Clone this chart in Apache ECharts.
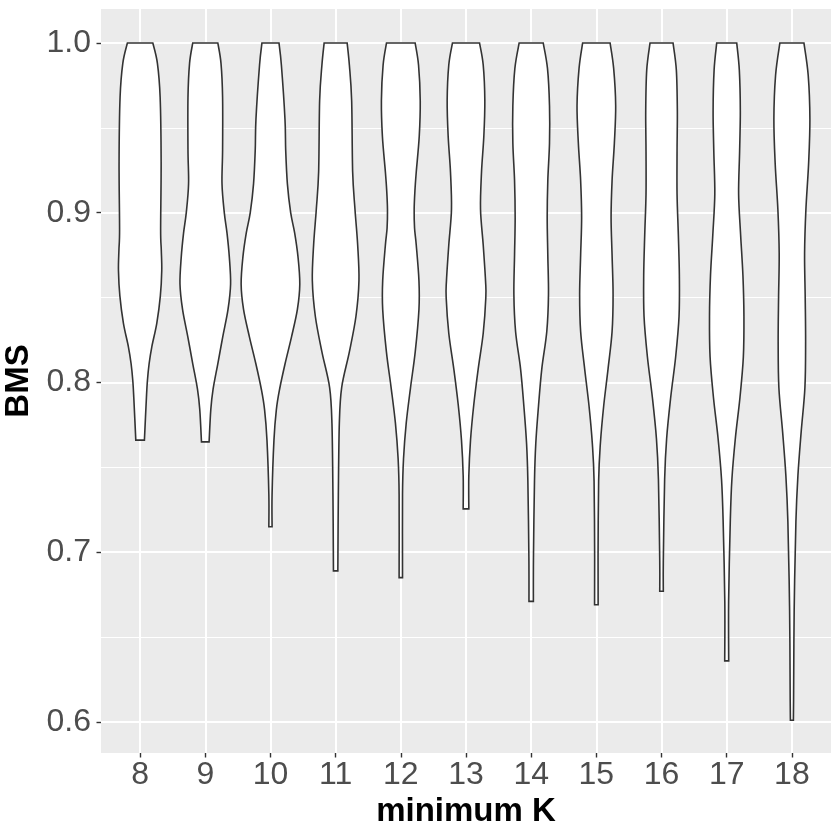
<!DOCTYPE html>
<html>
<head>
<meta charset="utf-8">
<script src="https://cdn.jsdelivr.net/npm/echarts@6/dist/echarts.min.js"></script>
<style>
  html, body { margin: 0; padding: 0; background: #fff; }
  #chart { width: 840px; height: 840px; }
</style>
</head>
<body>
<div id="chart"></div>
<script>
// minimum K groups (x axis)
const kValues = [8, 9, 10, 11, 12, 13, 14, 15, 16, 17, 18]
const yTicks = [0.6, 0.7, 0.8, 0.9, 1.0]
const yMinorTicks = [0.65, 0.75, 0.85, 0.95]

// violin outlines: [BMS, relative width], top to bottom
// width 1 = widest violin (K = 10)
const violin8 = [[1.0, 0.433], [0.988, 0.590], [0.968, 0.683], [0.93, 0.717], [0.89, 0.700],
  [0.878, 0.722], [0.866, 0.738], [0.851, 0.690], [0.835, 0.570], [0.821, 0.399], [0.811, 0.307],
  [0.801, 0.249], [0.791, 0.215], [0.766, 0.147]]
const violin9 = [[1.0, 0.427], [0.988, 0.536], [0.968, 0.590], [0.937, 0.590], [0.917, 0.570],
  [0.900, 0.648], [0.888, 0.741], [0.874, 0.819], [0.858, 0.863], [0.843, 0.775],
  [0.827, 0.597], [0.811, 0.427], [0.796, 0.266], [0.784, 0.188], [0.765, 0.130]]
const violin10 = [[1.0, 0.290], [0.987, 0.372], [0.955, 0.495], [0.937, 0.519], [0.917, 0.577],
  [0.900, 0.689], [0.888, 0.826], [0.874, 0.939], [0.858, 1.0], [0.843, 0.918],
  [0.827, 0.720], [0.811, 0.498], [0.796, 0.311], [0.784, 0.201], [0.766, 0.119],
  [0.734, 0.055], [0.715, 0.055]]
const violin11 = [[1.0, 0.392], [0.987, 0.468], [0.966, 0.546], [0.924, 0.580], [0.902, 0.659],
  [0.881, 0.751], [0.86, 0.795], [0.839, 0.693], [0.818, 0.468], [0.797, 0.205],
  [0.776, 0.126], [0.734, 0.092], [0.689, 0.075]]
const violin12 = [[1.0, 0.488], [0.987, 0.604], [0.966, 0.662], [0.945, 0.628], [0.924, 0.526],
  [0.913, 0.481], [0.902, 0.455], [0.891, 0.468], [0.881, 0.526], [0.86, 0.618], [0.843, 0.618],
  [0.818, 0.491], [0.797, 0.331], [0.776, 0.184], [0.755, 0.092], [0.734, 0.058], [0.685, 0.058]]
const violin13 = [[1.0, 0.461], [0.987, 0.587], [0.966, 0.642], [0.945, 0.608], [0.924, 0.529],
  [0.902, 0.495], [0.881, 0.587], [0.86, 0.666], [0.850, 0.676], [0.829, 0.587],
  [0.808, 0.416], [0.787, 0.266], [0.766, 0.154], [0.745, 0.096], [0.7255, 0.096]]
const violin14 = [[1.0, 0.410], [0.985, 0.556], [0.963, 0.625], [0.941, 0.625], [0.919, 0.567],
  [0.897, 0.546], [0.875, 0.567], [0.852, 0.590], [0.830, 0.532], [0.808, 0.362],
  [0.786, 0.249], [0.764, 0.157], [0.742, 0.113], [0.697, 0.078], [0.671, 0.075]]
const violin15 = [[1.0, 0.468], [0.985, 0.590], [0.963, 0.659], [0.941, 0.614], [0.919, 0.536],
  [0.897, 0.502], [0.875, 0.536], [0.852, 0.570], [0.830, 0.536], [0.808, 0.399],
  [0.786, 0.249], [0.764, 0.137], [0.742, 0.078], [0.697, 0.058], [0.669, 0.061]]
const violin16 = [[1.0, 0.392], [0.984, 0.505], [0.960, 0.539], [0.936, 0.529], [0.911, 0.529],
  [0.887, 0.573], [0.863, 0.608], [0.839, 0.597], [0.815, 0.481], [0.791, 0.311],
  [0.767, 0.174], [0.743, 0.106], [0.695, 0.061], [0.677, 0.061]]
const violin17 = [[1.0, 0.341], [0.984, 0.430], [0.960, 0.464], [0.936, 0.440], [0.911, 0.406],
  [0.887, 0.474], [0.863, 0.553], [0.839, 0.587], [0.815, 0.567], [0.791, 0.451],
  [0.767, 0.294], [0.743, 0.177], [0.719, 0.123], [0.671, 0.065], [0.636, 0.068]]
const violin18 = [[1.0, 0.410], [0.981, 0.556], [0.955, 0.614], [0.929, 0.570], [0.902, 0.478],
  [0.876, 0.433], [0.850, 0.454], [0.824, 0.468], [0.797, 0.444], [0.771, 0.317],
  [0.745, 0.205], [0.718, 0.137], [0.666, 0.078], [0.613, 0.058], [0.601, 0.051]]

const profiles = [violin8, violin9, violin10, violin11, violin12, violin13,
  violin14, violin15, violin16, violin17, violin18]

const halfWidth = 0.45 // ggplot default width 0.9

let myChart = echarts.init(document.getElementById('chart'))

// smooth line through points (catmull-rom as cubic bezier)
function smoothPath(pts) {
  let d = ''
  for (let i = 0; i < pts.length - 1; i++) {
    const p0 = pts[Math.max(i - 1, 0)]
    const p1 = pts[i]
    const p2 = pts[i + 1]
    const p3 = pts[Math.min(i + 2, pts.length - 1)]
    const c1 = [p1[0] + (p2[0] - p0[0]) / 6, p1[1] + (p2[1] - p0[1]) / 6]
    const c2 = [p2[0] - (p3[0] - p1[0]) / 6, p2[1] - (p3[1] - p1[1]) / 6]
    d += 'C' + c1[0] + ',' + c1[1] + ' ' + c2[0] + ',' + c2[1] + ' ' + p2[0] + ',' + p2[1]
  }
  return d
}

function renderViolin(params, api) {
  const k = api.value(0)
  const prof = profiles[params.dataIndex]
  const right = prof.map(p => api.coord([k + p[1] * halfWidth, p[0]]))
  const left = prof.map(p => api.coord([k - p[1] * halfWidth, p[0]])).reverse()
  const d = 'M' + right[0][0] + ',' + right[0][1] + smoothPath(right) +
    'L' + left[0][0] + ',' + left[0][1] + smoothPath(left) + 'Z'
  return {
    type: 'path',
    shape: { pathData: d },
    style: { fill: '#ffffff', stroke: '#333333', lineWidth: 1.6 }
  }
}

const tickLabel = {
  fontSize: 32,
  color: '#4D4D4D',
  fontFamily: 'Liberation Sans'
}

let option = {
  animation: false,
  textStyle: { fontFamily: 'Liberation Sans' },
  grid: {
    left: 101,
    right: 9,
    top: 9,
    bottom: 87,
    show: true,
    backgroundColor: '#EBEBEB',
    borderWidth: 0,
    outerBoundsMode: 'none'
  },
  xAxis: {
    type: 'value',
    min: 7.4,
    max: 18.6,
    name: 'minimum K',
    nameLocation: 'middle',
    nameGap: 40,
    nameTextStyle: { fontSize: 33, fontWeight: 'bold', color: '#000', fontFamily: 'Liberation Sans' },
    axisLine: { show: false },
    axisTick: { show: true, length: 4.5, customValues: kValues, lineStyle: { color: '#333333', width: 1.4 } },
    axisLabel: Object.assign({ margin: 6, customValues: kValues }, tickLabel),
    splitLine: { show: true, lineStyle: { color: '#ffffff', width: 2 } },
    minorSplitLine: { show: false }
  },
  yAxis: [{
    type: 'value',
    min: 0.5817,
    max: 1.02,
    name: 'BMS',
    nameLocation: 'middle',
    nameGap: 59,
    nameTextStyle: { fontSize: 33, fontWeight: 'bold', color: '#000', fontFamily: 'Liberation Sans' },
    axisLine: { show: false },
    axisTick: { show: true, length: 4.5, customValues: yTicks, lineStyle: { color: '#333333', width: 1.4 } },
    axisLabel: Object.assign({
      margin: 10,
      customValues: yTicks,
      formatter: v => v.toFixed(1)
    }, tickLabel),
    splitLine: { show: true, lineStyle: { color: '#ffffff', width: 2 } }
  }, {
    type: 'value',
    min: 0.5817,
    max: 1.02,
    position: 'left',
    axisLine: { show: false },
    axisTick: { show: false, customValues: yMinorTicks },
    axisLabel: { show: false, customValues: yMinorTicks },
    splitLine: { show: true, lineStyle: { color: '#ffffff', width: 1 } }
  }],
  series: [{
    type: 'custom',
    renderItem: renderViolin,
    encode: { x: 0, y: 1 },
    data: kValues.map(k => [k, 1.0]),
    z: 5
  }]
}

myChart.setOption(option)
</script>
</body>
</html>
